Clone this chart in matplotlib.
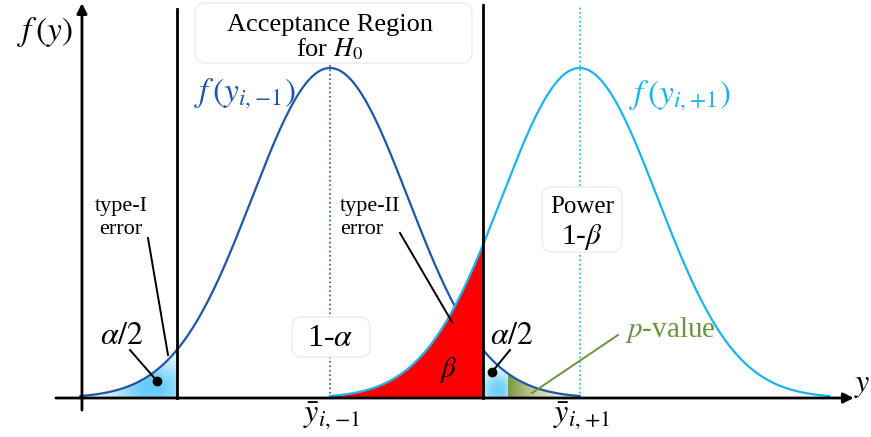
import numpy as np
import matplotlib.pyplot as plt
from matplotlib.colors import to_rgb
from matplotlib.patches import FancyBboxPatch

plt.rcParams['mathtext.fontset'] = 'stix'
plt.rcParams['font.family'] = ['Liberation Serif', 'DejaVu Serif']

# distribution parameters (in sigma units)
MU = [0.0, 3.2]
SIGMA = 1.0
Z_CRIT = [-1.96, 1.96]
Y_OBS = 2.28
CURVE_SPAN = 3.2

LEFT_COLOR = '#1f56a6'
RIGHT_COLOR = '#1ab4ee'
PVAL_COLOR = '#6a9440'

PX_X, PX_Y = 78, 330   # pixels per data unit


def gauss(x, mu):
    return np.exp(-0.5 * ((x - mu) / SIGMA)**2)


fig = plt.figure(figsize=(8.71, 4.37), dpi=100)
ax = fig.add_axes([0, 0, 1, 1])
ax.set_xlim(-330 / PX_X, (871 - 330) / PX_X)
ax.set_ylim(-39 / PX_Y, 398 / PX_Y)
ax.axis('off')


def P(px, py):
    return ((px - 330) / PX_X, (398 - py) / PX_Y)


x1 = np.linspace(MU[0] - CURVE_SPAN, MU[0] + CURVE_SPAN, 600)
x2 = np.linspace(MU[1] - CURVE_SPAN, MU[1] + CURVE_SPAN, 600)


def gradient_fill(xs, mu, color_fn, z):
    poly = ax.fill_between(xs, 0, gauss(xs, mu), color='none', lw=0, zorder=z)
    gx = np.linspace(xs[0], xs[-1], 200)
    gy = np.linspace(0, gauss(xs, mu).max(), 200)
    GX, GY = np.meshgrid(gx, gy)
    im = ax.imshow(color_fn(GX, GY), extent=(gx[0], gx[-1], gy[0], gy[-1]),
                   origin='lower', aspect='auto', zorder=z, interpolation='bilinear')
    im.set_clip_path(poly.get_paths()[0], transform=ax.transData)


def radial_blue(cpx, cpy, rx, ry, amax=0.9):
    c = np.array(to_rgb('#2cbaf4'))
    cx, cy = P(cpx, cpy)
    def fn(GX, GY):
        px = (GX - cx) * PX_X
        py = (GY - cy) * PX_Y
        img = np.ones(GX.shape + (4,))
        img[..., :3] = c
        img[..., 3] = amax * np.exp(-((px / rx)**2 + (py / ry)**2))
        return img
    return fn


def olive_grad(GX, GY):
    c0 = np.array(to_rgb('#7a983c'))
    c1 = np.array(to_rgb('#d9c99a'))
    t = np.clip((GX - Y_OBS) * PX_X / 50, 0, 1)
    img = np.ones(GX.shape + (4,))
    img[..., :3] = c0 * (1 - t[..., None]) + c1 * t[..., None]
    img[..., 3] = 1 - 0.6 * t
    return img


# tail areas
xl = np.linspace(-CURVE_SPAN, Z_CRIT[0], 200)
gradient_fill(xl, MU[0], radial_blue(152, 388, 40, 28, 0.75), 2)
xr = np.linspace(Z_CRIT[1], Y_OBS, 100)
gradient_fill(xr, MU[0], radial_blue(498, 390, 18, 18, 0.7), 2)
xp = np.linspace(Y_OBS, CURVE_SPAN, 100)
gradient_fill(xp, MU[0], olive_grad, 2)

# curves
ax.plot(x1, gauss(x1, MU[0]), color=LEFT_COLOR, lw=1.6, zorder=3)
xb = np.linspace(MU[1] - CURVE_SPAN, Z_CRIT[1], 300)
ax.fill_between(xb, 0, gauss(xb, MU[1]), color='#ff0000', lw=0, zorder=4)
ax.plot(x2, gauss(x2, MU[1]), color=RIGHT_COLOR, lw=1.6, zorder=5)

# mean lines
ax.plot([MU[0], MU[0]], [0, 1.19], ls=':', color=LEFT_COLOR, lw=1.2, zorder=3)
ax.plot([MU[1], MU[1]], [0, 1.19], ls=':', color=RIGHT_COLOR, lw=1.2, zorder=3)

# critical lines
ax.plot([Z_CRIT[0]] * 2, [0, 1.18], color='k', lw=2, zorder=6)
ax.plot([Z_CRIT[1]] * 2, [0, 1.19], color='k', lw=2, zorder=6)

# axes with arrows
ax.annotate('', xy=(6.75, 0), xytext=(-3.55, 0),
            arrowprops=dict(arrowstyle='-|>', lw=2, color='k', mutation_scale=15),
            zorder=7)
ax.annotate('', xy=(-3.18, 1.205), xytext=(-3.18, -0.045),
            arrowprops=dict(arrowstyle='-|>', lw=2, color='k', mutation_scale=15),
            zorder=7)


def rbox(px0, py0, px1, py1):
    x0, y1 = P(px0, py0)
    x1_, y0 = P(px1, py1)
    ax.add_patch(FancyBboxPatch((x0, y0), x1_ - x0, y1 - y0,
                                boxstyle='round,pad=0,rounding_size=0.13',
                                mutation_aspect=PX_X / PX_Y,
                                fc='white', ec='#ececec', lw=1, zorder=7.5))


rbox(195, 3, 472, 63)
rbox(292, 317, 370, 357)
rbox(542, 187, 622, 252)

ax.text(*P(45, 32), r'$f\,(y)$', fontsize=24, ha='center', va='center')
ax.text(*P(862, 385), r'$y$', fontsize=23, ha='center', va='center')

ax.text(*P(330, 25), 'Acceptance Region', fontsize=19,
        ha='center', va='center', zorder=8)
ax.text(*P(330, 49), 'for $H_0$', fontsize=19,
        ha='center', va='center', zorder=8)
ax.text(*P(245, 94), r'$f\,(y_{i,\!-\!1})$', fontsize=24, color=LEFT_COLOR,
        ha='center', va='center', zorder=8)
ax.text(*P(680, 96), r'$f\,(y_{i,\!+\!1})$', fontsize=24, color=RIGHT_COLOR,
        ha='center', va='center', zorder=8)

ax.text(*P(121, 218), 'type-I\nerror', fontsize=16, ha='center', va='center',
        linespacing=1.35, zorder=8)
ax.text(*P(340, 218), 'type-II\nerror', fontsize=16, ha='left', va='center',
        linespacing=1.35, zorder=8)
ax.text(*P(582, 207), 'Power', fontsize=18, ha='center', va='center', zorder=8)
ax.text(*P(582, 237), '1-$\\beta$', fontsize=21, ha='center', va='center', zorder=8)
ax.text(*P(330, 339), '1-$\\alpha$', fontsize=23, ha='center', va='center', zorder=8)

ax.text(*P(122, 337), r'$\alpha/2$', fontsize=23, ha='center', va='center', zorder=8)
ax.text(*P(512, 337), r'$\alpha/2$', fontsize=23, ha='center', va='center', zorder=8)
ax.text(*P(448, 370), r'$\beta$', fontsize=21, ha='center', va='center', zorder=8)
ax.text(*P(670, 330), r'$p$-value', fontsize=21, color=PVAL_COLOR,
        ha='center', va='center', zorder=8)

ax.text(*P(332, 416), r'$\bar{y}_{i,\!-\!1}$', fontsize=23, ha='center', va='center')
ax.text(*P(582, 416), r'$\bar{y}_{i,\!+\!1}$', fontsize=23, ha='center', va='center')

# pointer lines
ax.plot(*zip(P(148, 238), P(168, 355)), color='k', lw=1.4, zorder=8)
ax.plot(*zip(P(130, 350), P(157, 381)), color='k', lw=1.4, zorder=8)
ax.plot(*P(157, 381), 'o', color='k', ms=6, zorder=8)
ax.plot(*zip(P(400, 233), P(452, 322)), color='k', lw=1.4, zorder=8)
ax.plot(*zip(P(510, 350), P(492, 372)), color='k', lw=1.4, zorder=8)
ax.plot(*P(492, 372), 'o', color='k', ms=6, zorder=8)
ax.plot(*zip(P(618, 335), P(532, 393)), color=PVAL_COLOR, lw=1.4, zorder=8)

fig.savefig('out.png', dpi=100)
